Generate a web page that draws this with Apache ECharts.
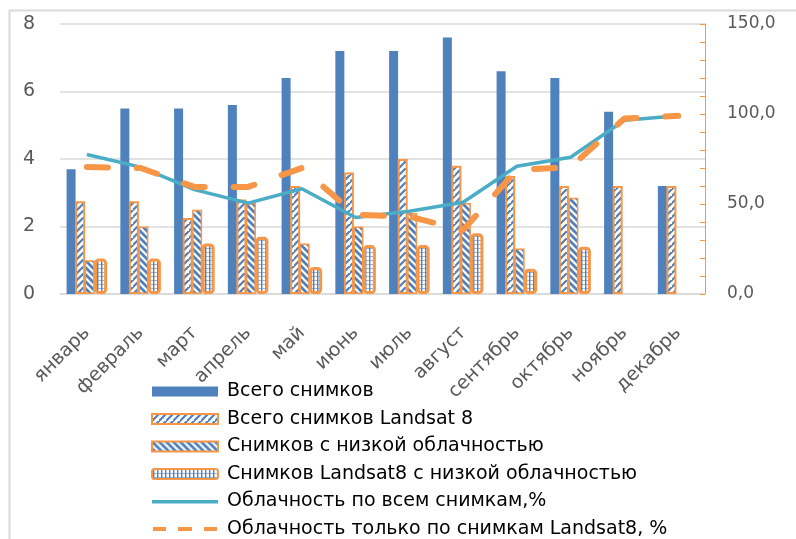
<!DOCTYPE html>
<html><head><meta charset="utf-8">
<script src="https://cdn.jsdelivr.net/npm/echarts@6/dist/echarts.min.js"></script>
<style>html,body{margin:0;padding:0;background:#fff}#c{width:796px;height:539px}</style>
</head><body><div id="c"></div>
<script>
var categories = ['январь','февраль','март','апрель','май','июнь','июль','август','сентябрь','октябрь','ноябрь','декабрь'];
var totalImages = [3.7, 5.5, 5.5, 5.6, 6.4, 7.2, 7.2, 7.6, 6.6, 6.4, 5.4, 3.2];
var landsatImages = [2.75, 2.75, 2.25, 2.8, 3.2, 3.6, 4.0, 3.8, 3.5, 3.2, 3.2, 3.2];
var lowCloudImages = [1.0, 2.0, 2.5, 2.7, 1.5, 2.0, 2.4, 2.7, 1.35, 2.85, 0, 0];
var landsatLowCloud = [1.05, 1.05, 1.5, 1.7, 0.8, 1.45, 1.45, 1.8, 0.75, 1.4, 0, 0];
var cloudAll = [77.5, 70.5, 58, 50.5, 58.5, 42.5, 46, 51, 71, 76, 96.5, 99];
var cloudLandsat = [70.5, 70, 59.5, 59.5, 70, 44, 43, 35.5, 69, 70.5, 97.5, 99];
var seriesNames = ['Всего снимков','Всего снимков Landsat 8','Снимков с низкой облачностью','Снимков Landsat8 с низкой облачностью','Облачность по всем снимкам,%','Облачность только по снимкам Landsat8, %'];
var leftTicks = {min: 0, max: 8, interval: 2};
var rightTicks = {min: 0, max: 150, interval: 50};

var BLUE = '#4f81bd', ORANGE = '#f79646', TEAL = '#4bacc6';

function makePattern(kind) {
  var c = document.createElement('canvas');
  var s = kind === 'grid' ? 4 : 7;
  c.width = s; c.height = s;
  var g = c.getContext('2d');
  g.fillStyle = '#fff'; g.fillRect(0, 0, s, s);
  g.strokeStyle = BLUE; g.fillStyle = BLUE;
  if (kind === 'fwd') {
    g.lineWidth = 2.2;
    g.beginPath();
    g.moveTo(-1, s + 1); g.lineTo(s + 1, -1);
    g.moveTo(-1 - s, s + 1); g.lineTo(1, -1);
    g.moveTo(s - 1, 2 * s + 1); g.lineTo(2 * s + 1, s - 1);
    g.stroke();
  } else if (kind === 'back') {
    g.lineWidth = 2.8;
    g.beginPath();
    g.moveTo(-1, -1); g.lineTo(s + 1, s + 1);
    g.moveTo(-1 - s, -1); g.lineTo(1, s + 1);
    g.moveTo(s - 1, -1); g.lineTo(2 * s + 1, s + 1);
    g.stroke();
  } else {
    g.fillStyle = '#9fb6d6';
    g.fillRect(0, 0, s, 1);
    g.fillStyle = BLUE;
    g.fillRect(1, 0, 1.4, s);
  }
  return {image: c, repeat: 'repeat'};
}
function noZero(arr) { return arr.map(function (v) { return v === 0 ? null : v; }); }

// legend icon paths (66x10 box, with tiny corner points to fix the bounding box)
var corners = ' M0,0h0.01v0.01h-0.01z M65.99,9.99h0.01v0.01h-0.01z';
var solidLineIcon = 'path://M0,3.5h66v3.5h-66z' + corners;
var dashLineIcon = 'path://M1,3h13v4h-13z M26,3h14v4h-14z M52,3h13v4h-13z' + corners;

var chart = echarts.init(document.getElementById('c'), null, {renderer: 'canvas'});
var FONT = 'DejaVu Sans';
chart.setOption({
  animation: false,
  textStyle: {fontFamily: FONT},
  graphic: [{
    type: 'rect', left: 7, top: 8, shape: {width: 800, height: 540},
    style: {fill: 'none', stroke: '#d9d9d9', lineWidth: 2}, silent: true, z: -1
  }],
  grid: {left: 60, right: 91, top: 24, bottom: 245},
  legend: {
    orient: 'vertical', left: 151, top: 382, padding: 0,
    itemWidth: 66, itemHeight: 10, itemGap: 8.5, symbolKeepAspect: false,
    textStyle: {fontSize: 19, color: '#000', fontFamily: FONT, lineHeight: 19, padding: [0, 0, 0, 4]},
    data: [
      {name: seriesNames[0], icon: 'rect'},
      {name: seriesNames[1], icon: 'rect'},
      {name: seriesNames[2], icon: 'rect'},
      {name: seriesNames[3], icon: 'roundRect'},
      {name: seriesNames[4], icon: solidLineIcon},
      {name: seriesNames[5], icon: dashLineIcon}
    ]
  },
  xAxis: {
    type: 'category', data: categories,
    axisLine: {lineStyle: {color: '#d9d9d9', width: 1.5}},
    axisTick: {show: false},
    axisLabel: {rotate: 45, fontSize: 19, color: '#595959', margin: 36, interval: 0}
  },
  yAxis: [{
    type: 'value', min: leftTicks.min, max: leftTicks.max, interval: leftTicks.interval,
    axisLine: {show: false}, axisTick: {show: false},
    axisLabel: {fontSize: 19, color: '#595959', margin: 25},
    splitLine: {lineStyle: {color: '#d9d9d9', width: 1.5}}
  }, {
    type: 'value', position: 'right', min: rightTicks.min, max: rightTicks.max, interval: rightTicks.interval,
    axisLine: {show: true, lineStyle: {color: ORANGE, width: 1}},
    axisTick: {show: true, inside: true, length: 5, lineStyle: {color: ORANGE}},
    minorTick: {show: true, splitNumber: 5, length: 5, lineStyle: {color: ORANGE}},
    splitLine: {show: false},
    axisLabel: {fontSize: 17, color: '#595959', margin: 22,
      formatter: function (v) { return v.toFixed(1).replace('.', ','); }}
  }],
  series: [{
    name: seriesNames[0], type: 'bar', data: totalImages, barWidth: 9,
    itemStyle: {color: BLUE}
  }, {
    name: seriesNames[1], type: 'bar', data: landsatImages, barWidth: 10,
    itemStyle: {color: makePattern('fwd'), borderColor: ORANGE, borderWidth: 2}
  }, {
    name: seriesNames[2], type: 'bar', data: noZero(lowCloudImages), barWidth: 10,
    itemStyle: {color: makePattern('back'), borderColor: ORANGE, borderWidth: 1.5}
  }, {
    name: seriesNames[3], type: 'bar', data: noZero(landsatLowCloud), barWidth: 13, barGap: '-5%',
    itemStyle: {color: makePattern('grid'), borderColor: ORANGE, borderWidth: 3, borderRadius: 3}
  }, {
    name: seriesNames[4], type: 'line', yAxisIndex: 1, data: cloudAll, symbol: 'none',
    lineStyle: {color: TEAL, width: 3.5}, itemStyle: {color: TEAL}, z: 5
  }, {
    name: seriesNames[5], type: 'line', yAxisIndex: 1, data: cloudLandsat, symbol: 'none',
    lineStyle: {color: ORANGE, width: 6, type: [21, 29], cap: 'round'}, itemStyle: {color: ORANGE}, z: 6
  }]
});
</script></body></html>
